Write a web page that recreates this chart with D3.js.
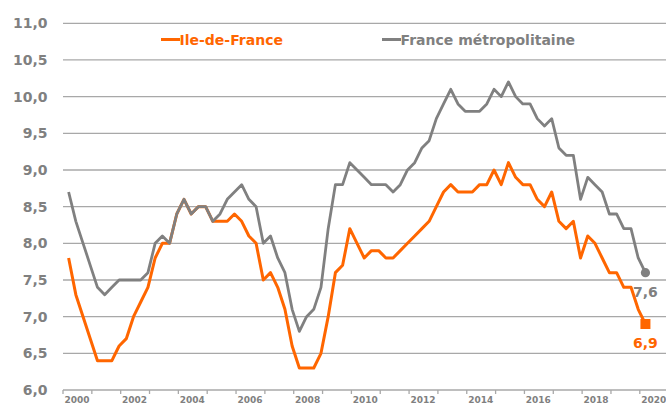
<!DOCTYPE html>
<html>
<head>
<meta charset="utf-8">
<script src="https://cdn.jsdelivr.net/npm/d3@7"></script>
<style>
  body { margin: 0; background: #fff; overflow: hidden; }
  svg { display: block; font-family: "DejaVu Sans", sans-serif; }
</style>
</head>
<body>
<div id="chart"></div>
<script>
var svgWidth = 666;
var svgHeight = 405;

// quarterly unemployment rate, 2000 Q1 -> 2020 Q1
var idfRate = [7.8, 7.3, 7.0, 6.7, 6.4, 6.4, 6.4, 6.6, 6.7, 7.0, 7.2, 7.4,
  7.8, 8.0, 8.0, 8.4, 8.6, 8.4, 8.5, 8.5, 8.3, 8.3, 8.3, 8.4,
  8.3, 8.1, 8.0, 7.5, 7.6, 7.4, 7.1, 6.6, 6.3, 6.3, 6.3, 6.5,
  7.0, 7.6, 7.7, 8.2, 8.0, 7.8, 7.9, 7.9, 7.8, 7.8, 7.9, 8.0,
  8.1, 8.2, 8.3, 8.5, 8.7, 8.8, 8.7, 8.7, 8.7, 8.8, 8.8, 9.0,
  8.8, 9.1, 8.9, 8.8, 8.8, 8.6, 8.5, 8.7, 8.3, 8.2, 8.3, 7.8,
  8.1, 8.0, 7.8, 7.6, 7.6, 7.4, 7.4, 7.1, 6.9];
var franceRate = [8.7, 8.3, 8.0, 7.7, 7.4, 7.3, 7.4, 7.5, 7.5, 7.5, 7.5, 7.6,
  8.0, 8.1, 8.0, 8.4, 8.6, 8.4, 8.5, 8.5, 8.3, 8.4, 8.6, 8.7,
  8.8, 8.6, 8.5, 8.0, 8.1, 7.8, 7.6, 7.1, 6.8, 7.0, 7.1, 7.4,
  8.2, 8.8, 8.8, 9.1, 9.0, 8.9, 8.8, 8.8, 8.8, 8.7, 8.8, 9.0,
  9.1, 9.3, 9.4, 9.7, 9.9, 10.1, 9.9, 9.8, 9.8, 9.8, 9.9, 10.1,
  10.0, 10.2, 10.0, 9.9, 9.9, 9.7, 9.6, 9.7, 9.3, 9.2, 9.2, 8.6,
  8.9, 8.8, 8.7, 8.4, 8.4, 8.2, 8.2, 7.8, 7.6];
var seriesNames = ["Ile-de-France", "France métropolitaine"];
var yTicks = [6.0, 6.5, 7.0, 7.5, 8.0, 8.5, 9.0, 9.5, 10.0, 10.5, 11.0];
var yearTicks = d3.range(2000, 2022);
var yearLabels = [2000, 2002, 2004, 2006, 2008, 2010, 2012, 2014, 2016, 2018, 2020];

var orange = "#FF6600";
var grey = "#808080";
var fmt = function(v) { return v.toFixed(1).replace(".", ","); };

var svg = d3.select("#chart")
  .append("svg")
    .attr("width", svgWidth)
    .attr("height", svgHeight);

// scales (x in years, each quarter sits a bit inside its year slot)
var x = d3.scaleLinear()
  .domain([2000, 2021])
  .range([62.5, 62.5 + 21 * 28.84]);
var quarterYear = function(i) { return 2000.2125 + i / 4; };

var y = d3.scaleLinear()
  .domain([6, 11])
  .range([390, 23.3]);

// gridlines
svg.append("g")
  .selectAll("line")
  .data(yTicks.slice(1))
  .enter()
  .append("line")
    .attr("x1", 63)
    .attr("x2", svgWidth)
    .attr("y1", d => y(d))
    .attr("y2", d => y(d))
    .attr("stroke", "#A8A8A8")
    .attr("stroke-width", 1.3);

// y labels
svg.append("g")
  .selectAll("text")
  .data(yTicks)
  .enter()
  .append("text")
    .attr("x", 47.5)
    .attr("y", d => y(d))
    .attr("dy", "0.36em")
    .attr("text-anchor", "end")
    .attr("font-size", 14)
    .attr("font-weight", "bold")
    .attr("fill", grey)
    .text(fmt);

// x axis
var xAxis = d3.axisBottom(x)
  .tickValues(yearTicks)
  .tickSize(4)
  .tickSizeOuter(0)
  .tickFormat("");
var axisG = svg.append("g")
  .attr("transform", "translate(0, 390)")
  .call(xAxis);
axisG.select(".domain").attr("stroke", "#A8A8A8").attr("stroke-width", 1.3)
  .attr("d", "M63,0H" + svgWidth);
axisG.selectAll(".tick line").attr("stroke", "#A8A8A8").attr("stroke-width", 1.3);

svg.append("g")
  .selectAll("text")
  .data(yearLabels)
  .enter()
  .append("text")
    .attr("x", d => x(d + 0.5))
    .attr("y", 403)
    .attr("text-anchor", "middle")
    .attr("font-size", 9)
    .attr("font-weight", "bold")
    .attr("fill", grey)
    .text(d => d);

// lines
var line = d3.line()
  .x((d, i) => x(quarterYear(i)))
  .y(d => y(d));

svg.append("path")
  .datum(idfRate)
  .attr("d", line)
  .attr("fill", "none")
  .attr("stroke", orange)
  .attr("stroke-width", 3)
  .attr("stroke-linejoin", "round");

svg.append("path")
  .datum(franceRate)
  .attr("d", line)
  .attr("fill", "none")
  .attr("stroke", grey)
  .attr("stroke-width", 2.8)
  .attr("stroke-linejoin", "round");

// end markers + labels
var last = idfRate.length - 1;
var lx = x(quarterYear(last));

svg.append("circle")
  .attr("cx", lx)
  .attr("cy", y(franceRate[last]))
  .attr("r", 4.6)
  .attr("fill", grey);

svg.append("rect")
  .attr("x", lx - 5)
  .attr("y", y(idfRate[last]) - 5)
  .attr("width", 10)
  .attr("height", 10)
  .attr("fill", orange);

svg.append("text")
  .attr("x", lx)
  .attr("y", y(franceRate[last]) + 24)
  .attr("text-anchor", "middle")
  .attr("font-size", 14)
  .attr("font-weight", "bold")
  .attr("fill", grey)
  .text(fmt(franceRate[last]));

svg.append("text")
  .attr("x", lx)
  .attr("y", y(idfRate[last]) + 24)
  .attr("text-anchor", "middle")
  .attr("font-size", 14)
  .attr("font-weight", "bold")
  .attr("fill", orange)
  .text(fmt(idfRate[last]));

// legend
var legend = [
  {name: seriesNames[0], color: orange, x: 161},
  {name: seriesNames[1], color: grey, x: 382}
];
var lg = svg.append("g").selectAll("g")
  .data(legend)
  .enter()
  .append("g")
    .attr("transform", d => `translate(${d.x}, 39.5)`);
lg.append("line")
  .attr("x1", 0)
  .attr("x2", 19)
  .attr("stroke", d => d.color)
  .attr("stroke-width", 3);
lg.append("text")
  .attr("x", 18.5)
  .attr("dy", "0.36em")
  .attr("font-size", 14)
  .attr("font-weight", "bold")
  .attr("fill", d => d.color)
  .text(d => d.name);
</script>
</body>
</html>
